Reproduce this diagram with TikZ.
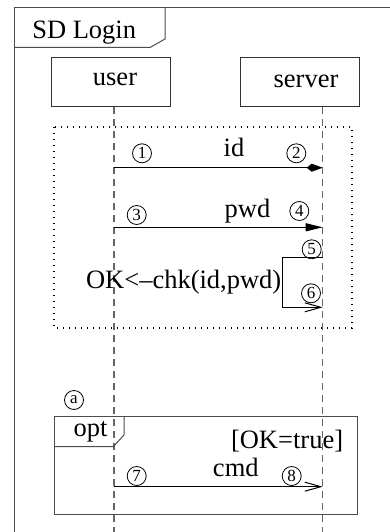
\documentclass[tikz,border=0pt]{standalone}
\usepackage{fontspec}
\setmainfont{Liberation Serif}
\usetikzlibrary{arrows.meta}

\begin{document}
\begin{tikzpicture}[x=1pt, y=-1pt,
  frm/.style={draw=black!70, line width=1pt},
  actor/.style={draw=black!80, line width=1pt, minimum width=119pt, minimum height=49pt, inner sep=0pt},
  lifeline/.style={draw=black!60, line width=1.2pt, dash pattern=on 7pt off 5pt},
  grp/.style={draw, line width=1.1pt, dash pattern=on 1.2pt off 4.8pt},
  lbl/.style={font=\fontsize{26.5}{30}\selectfont, inner sep=0pt, anchor=base},
  num/.style={draw, circle, minimum size=19pt, inner sep=0pt, line width=0.8pt, font=\fontsize{17}{17}\selectfont},
  sync/.style={-{Kite[length=16pt, width=8pt, inset=5pt]}, line width=1pt},
  async/.style={-{Triangle[length=17pt, width=8pt]}, line width=1pt},
  reply/.style={-{Straight Barb[length=16pt, width=9pt]}, line width=1pt}
]
  \useasboundingbox (0,0) rectangle (390,532);

  % Outer frame and title tab
  \draw[frm] (390,8) -- (14,8) -- (14,532);
  \draw[frm] (165,8) -- (165,39) -- (150,47.5) -- (14,47.5);
  \node[lbl] (title) at (84.2,38.3) {SD Login};

  % Actors
  \node[actor] (user) at (110.5,82.5) {};
  \node[actor] (server) at (300,82.5) {};
  \node[lbl] (usert) at (115,86) {user};
  \node[lbl] (servert) at (306,87.7) {server};

  % Lifelines
  \coordinate (ul) at (114,107);
  \coordinate (sl) at (322.7,107);
  \draw[lifeline] (ul) -- (ul |- 0,532);
  \draw[lifeline] (sl) -- (sl |- 0,532);

  % Dotted group
  \draw[grp] (54,127) rectangle (352,328);

  % Messages
  \draw[sync] (ul |- 0,167.7) -- (sl |- 0,167.7);
  \node[lbl] (idt) at (234,156.7) {id};
  \draw[async] (ul |- 0,227.3) -- (sl |- 0,227.3);
  \node[lbl] (pwdt) at (247.5,217.3) {pwd};

  % Self call
  \coordinate (s5) at (sl |- 0,257.3);
  \coordinate (s6) at (sl |- 0,307.3);
  \draw[reply] (s5) -- ++(-40,0) |- (s6);
  \node[lbl, anchor=base east] (chkt) at (281.5,288) {OK\textless\textendash chk(id,pwd)};

  % Option fragment
  \draw[frm] (54,416.7) rectangle (357.3,514.3);
  \draw[frm] (124,416.7) -- (124,435) -- (113.3,446.7) -- (54,446.7);
  \node[lbl] (optt) at (90.5,436.7) {opt};
  \node[lbl, anchor=base east] (guard) at (343.3,448) {[OK=true]};
  \draw[reply] (ul |- 0,486.7) -- (sl |- 0,486.7);
  \node[lbl] (cmdt) at (235.8,476) {cmd};

  % Sequence numbers
  \foreach \n/\x/\y in {1/142/153.3, 2/296.3/153.3, 3/136.7/215, 4/299.3/211,
                        5/311.7/249.3, 6/311/293.3, 7/136.7/476, 8/291.7/476, a/74/400} {
    \node[num] (n\n) at (\x,\y) {\n};
  }
\end{tikzpicture}
\end{document}
